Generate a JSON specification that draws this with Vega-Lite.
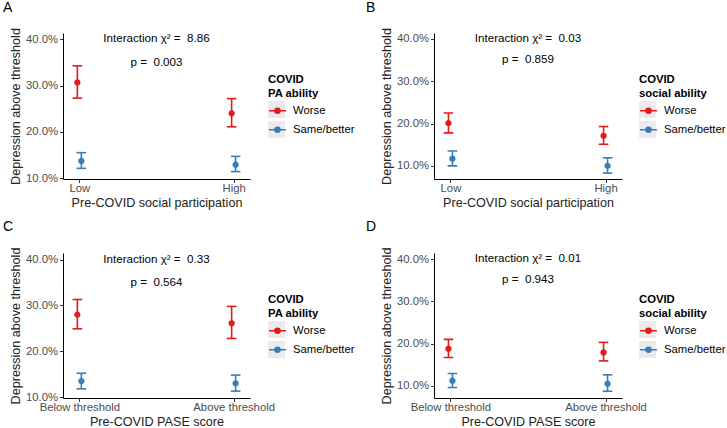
{
  "$schema": "https://vega.github.io/schema/vega-lite/v6.json",
  "padding": {"left": 3, "top": 0, "right": 0, "bottom": 0},
  "datasets": {
    "pts": [
      {"panel": "A", "x": "Low", "g": "Worse", "p": 0.307, "lo": 0.273, "hi": 0.343},
      {"panel": "A", "x": "Low", "g": "Same/better", "p": 0.137, "lo": 0.121, "hi": 0.155},
      {"panel": "A", "x": "High", "g": "Worse", "p": 0.240, "lo": 0.211, "hi": 0.272},
      {"panel": "A", "x": "High", "g": "Same/better", "p": 0.129, "lo": 0.114, "hi": 0.147},
      {"panel": "B", "x": "Low", "g": "Worse", "p": 0.201, "lo": 0.178, "hi": 0.225},
      {"panel": "B", "x": "Low", "g": "Same/better", "p": 0.117, "lo": 0.100, "hi": 0.135},
      {"panel": "B", "x": "High", "g": "Worse", "p": 0.171, "lo": 0.151, "hi": 0.193},
      {"panel": "B", "x": "High", "g": "Same/better", "p": 0.100, "lo": 0.083, "hi": 0.119},
      {"panel": "C", "x": "Below threshold", "g": "Worse", "p": 0.280, "lo": 0.249, "hi": 0.313},
      {"panel": "C", "x": "Below threshold", "g": "Same/better", "p": 0.135, "lo": 0.118, "hi": 0.152},
      {"panel": "C", "x": "Above threshold", "g": "Worse", "p": 0.261, "lo": 0.228, "hi": 0.298},
      {"panel": "C", "x": "Above threshold", "g": "Same/better", "p": 0.130, "lo": 0.113, "hi": 0.148},
      {"panel": "D", "x": "Below threshold", "g": "Worse", "p": 0.188, "lo": 0.167, "hi": 0.210},
      {"panel": "D", "x": "Below threshold", "g": "Same/better", "p": 0.112, "lo": 0.096, "hi": 0.129},
      {"panel": "D", "x": "Above threshold", "g": "Worse", "p": 0.179, "lo": 0.159, "hi": 0.203},
      {"panel": "D", "x": "Above threshold", "g": "Same/better", "p": 0.105, "lo": 0.087, "hi": 0.126}
    ],
    "ann": [
      {"panel": "A", "label": "Interaction χ² = \u00a08.86", "yv": 0.40},
      {"panel": "A", "label": "p = \u00a00.003", "yv": 0.35},
      {"panel": "B", "label": "Interaction χ² = \u00a00.03", "yv": 0.40},
      {"panel": "B", "label": "p = \u00a00.859", "yv": 0.35},
      {"panel": "C", "label": "Interaction χ² = \u00a00.33", "yv": 0.40},
      {"panel": "C", "label": "p = \u00a00.564", "yv": 0.35},
      {"panel": "D", "label": "Interaction χ² = \u00a00.01", "yv": 0.40},
      {"panel": "D", "label": "p = \u00a00.943", "yv": 0.35}
    ]
  },
  "columns": 2,
  "spacing": {"row": 74, "column": 184},
  "bounds": "flush",
  "concat": [
    {
      "width": 187, "height": 146,
      "title": {"text": "A", "anchor": "start", "frame": "group", "dx": -60, "offset": 13},
      "layer": [
        {"data": {"name": "pts"}, "transform": [{"filter": "datum.panel === 'A'"}],
         "mark": {"type": "square", "opacity": 0, "size": 1},
         "encoding": {
           "x": {"field": "x", "type": "nominal", "scale": {"type": "point", "domain": ["Low", "High"], "padding": 0.106}, "title": "Pre-COVID social participation"},
           "y": {"field": "p", "type": "quantitative", "scale": {"domain": [0.098, 0.414]}, "axis": {"values": [0.1, 0.2, 0.3, 0.4], "format": ".1%"}, "title": "Depression above threshold"},
           "color": {"field": "g", "type": "nominal", "scale": {"domain": ["Worse", "Same/better"], "range": ["#EBEBEB", "#EBEBEB"]}, "legend": {"title": null, "legendY": 68, "symbolType": "square", "symbolStrokeWidth": 0, "labelExpr": "''"}}
         }},
        {"data": {"name": "pts"}, "transform": [{"filter": "datum.panel === 'A'"}],
         "mark": {"type": "rule", "strokeWidth": 1.6},
         "encoding": {
           "x": {"field": "x", "type": "nominal", "scale": {"type": "point", "domain": ["Low", "High"], "padding": 0.106}, "title": "Pre-COVID social participation"},
           "xOffset": {"field": "g", "type": "nominal", "scale": {"type": "point", "domain": ["Worse", "Same/better"], "range": [-4, 4]}},
           "y": {"field": "lo", "type": "quantitative", "scale": {"domain": [0.098, 0.414]}, "title": "Depression above threshold"},
           "y2": {"field": "hi"},
           "stroke": {"field": "g", "type": "nominal", "sort": ["Worse", "Same/better"], "scale": {"range": ["#E41A1C", "#377EB8"]}, "legend": {"title": ["COVID", "PA ability"]}}
         }},
        {"data": {"name": "pts"}, "transform": [{"filter": "datum.panel === 'A'"}],
         "mark": {"type": "tick", "size": 8, "thickness": 0.01, "filled": false, "strokeWidth": 1.6, "opacity": 1},
         "encoding": {
           "x": {"field": "x", "type": "nominal", "scale": {"type": "point", "domain": ["Low", "High"], "padding": 0.106}, "title": "Pre-COVID social participation"},
           "xOffset": {"field": "g", "type": "nominal", "scale": {"type": "point", "domain": ["Worse", "Same/better"], "range": [-4, 4]}},
           "y": {"field": "lo", "type": "quantitative", "scale": {"domain": [0.098, 0.414]}, "title": "Depression above threshold"},
           "stroke": {"field": "g", "type": "nominal", "sort": ["Worse", "Same/better"], "scale": {"range": ["#E41A1C", "#377EB8"]}, "legend": {"title": ["COVID", "PA ability"]}}
         }},
        {"data": {"name": "pts"}, "transform": [{"filter": "datum.panel === 'A'"}],
         "mark": {"type": "tick", "size": 8, "thickness": 0.01, "filled": false, "strokeWidth": 1.6, "opacity": 1},
         "encoding": {
           "x": {"field": "x", "type": "nominal", "scale": {"type": "point", "domain": ["Low", "High"], "padding": 0.106}, "title": "Pre-COVID social participation"},
           "xOffset": {"field": "g", "type": "nominal", "scale": {"type": "point", "domain": ["Worse", "Same/better"], "range": [-4, 4]}},
           "y": {"field": "hi", "type": "quantitative", "scale": {"domain": [0.098, 0.414]}, "title": "Depression above threshold"},
           "stroke": {"field": "g", "type": "nominal", "sort": ["Worse", "Same/better"], "scale": {"range": ["#E41A1C", "#377EB8"]}, "legend": {"title": ["COVID", "PA ability"]}}
         }},
        {"data": {"name": "pts"}, "transform": [{"filter": "datum.panel === 'A'"}],
         "mark": {"type": "point", "shape": "circle", "filled": false, "size": 9, "strokeWidth": 3.3, "opacity": 1},
         "encoding": {
           "x": {"field": "x", "type": "nominal", "scale": {"type": "point", "domain": ["Low", "High"], "padding": 0.106}, "title": "Pre-COVID social participation"},
           "xOffset": {"field": "g", "type": "nominal", "scale": {"type": "point", "domain": ["Worse", "Same/better"], "range": [-4, 4]}},
           "y": {"field": "p", "type": "quantitative", "scale": {"domain": [0.098, 0.414]}, "title": "Depression above threshold"},
           "stroke": {"field": "g", "type": "nominal", "sort": ["Worse", "Same/better"], "scale": {"range": ["#E41A1C", "#377EB8"]}, "legend": {"title": ["COVID", "PA ability"]}}
         }},
        {"data": {"name": "ann"}, "transform": [{"filter": "datum.panel === 'A'"}],
         "mark": {"type": "text", "fontSize": 11.6, "color": "#000"},
         "encoding": {
           "y": {"field": "yv", "type": "quantitative", "scale": {"domain": [0.098, 0.414]}, "title": "Depression above threshold"},
           "text": {"field": "label"}
         }}
      ]
    },
    {
      "width": 188, "height": 146,
      "title": {"text": "B", "anchor": "start", "frame": "group", "dx": -68, "offset": 13},
      "layer": [
        {"data": {"name": "pts"}, "transform": [{"filter": "datum.panel === 'B'"}],
         "mark": {"type": "square", "opacity": 0, "size": 1},
         "encoding": {
           "x": {"field": "x", "type": "nominal", "scale": {"type": "point", "domain": ["Low", "High"], "padding": 0.106}, "title": "Pre-COVID social participation"},
           "y": {"field": "p", "type": "quantitative", "scale": {"domain": [0.069, 0.414]}, "axis": {"values": [0.1, 0.2, 0.3, 0.4], "format": ".1%"}, "title": "Depression above threshold"},
           "color": {"field": "g", "type": "nominal", "scale": {"domain": ["Worse", "Same/better"], "range": ["#EBEBEB", "#EBEBEB"]}, "legend": {"title": null, "legendY": 68, "symbolType": "square", "symbolStrokeWidth": 0, "labelExpr": "''"}}
         }},
        {"data": {"name": "pts"}, "transform": [{"filter": "datum.panel === 'B'"}],
         "mark": {"type": "rule", "strokeWidth": 1.6},
         "encoding": {
           "x": {"field": "x", "type": "nominal", "scale": {"type": "point", "domain": ["Low", "High"], "padding": 0.106}, "title": "Pre-COVID social participation"},
           "xOffset": {"field": "g", "type": "nominal", "scale": {"type": "point", "domain": ["Worse", "Same/better"], "range": [-4, 4]}},
           "y": {"field": "lo", "type": "quantitative", "scale": {"domain": [0.069, 0.414]}, "title": "Depression above threshold"},
           "y2": {"field": "hi"},
           "stroke": {"field": "g", "type": "nominal", "sort": ["Worse", "Same/better"], "scale": {"range": ["#E41A1C", "#377EB8"]}, "legend": {"title": ["COVID", "social ability"]}}
         }},
        {"data": {"name": "pts"}, "transform": [{"filter": "datum.panel === 'B'"}],
         "mark": {"type": "tick", "size": 8, "thickness": 0.01, "filled": false, "strokeWidth": 1.6, "opacity": 1},
         "encoding": {
           "x": {"field": "x", "type": "nominal", "scale": {"type": "point", "domain": ["Low", "High"], "padding": 0.106}, "title": "Pre-COVID social participation"},
           "xOffset": {"field": "g", "type": "nominal", "scale": {"type": "point", "domain": ["Worse", "Same/better"], "range": [-4, 4]}},
           "y": {"field": "lo", "type": "quantitative", "scale": {"domain": [0.069, 0.414]}, "title": "Depression above threshold"},
           "stroke": {"field": "g", "type": "nominal", "sort": ["Worse", "Same/better"], "scale": {"range": ["#E41A1C", "#377EB8"]}, "legend": {"title": ["COVID", "social ability"]}}
         }},
        {"data": {"name": "pts"}, "transform": [{"filter": "datum.panel === 'B'"}],
         "mark": {"type": "tick", "size": 8, "thickness": 0.01, "filled": false, "strokeWidth": 1.6, "opacity": 1},
         "encoding": {
           "x": {"field": "x", "type": "nominal", "scale": {"type": "point", "domain": ["Low", "High"], "padding": 0.106}, "title": "Pre-COVID social participation"},
           "xOffset": {"field": "g", "type": "nominal", "scale": {"type": "point", "domain": ["Worse", "Same/better"], "range": [-4, 4]}},
           "y": {"field": "hi", "type": "quantitative", "scale": {"domain": [0.069, 0.414]}, "title": "Depression above threshold"},
           "stroke": {"field": "g", "type": "nominal", "sort": ["Worse", "Same/better"], "scale": {"range": ["#E41A1C", "#377EB8"]}, "legend": {"title": ["COVID", "social ability"]}}
         }},
        {"data": {"name": "pts"}, "transform": [{"filter": "datum.panel === 'B'"}],
         "mark": {"type": "point", "shape": "circle", "filled": false, "size": 9, "strokeWidth": 3.3, "opacity": 1},
         "encoding": {
           "x": {"field": "x", "type": "nominal", "scale": {"type": "point", "domain": ["Low", "High"], "padding": 0.106}, "title": "Pre-COVID social participation"},
           "xOffset": {"field": "g", "type": "nominal", "scale": {"type": "point", "domain": ["Worse", "Same/better"], "range": [-4, 4]}},
           "y": {"field": "p", "type": "quantitative", "scale": {"domain": [0.069, 0.414]}, "title": "Depression above threshold"},
           "stroke": {"field": "g", "type": "nominal", "sort": ["Worse", "Same/better"], "scale": {"range": ["#E41A1C", "#377EB8"]}, "legend": {"title": ["COVID", "social ability"]}}
         }},
        {"data": {"name": "ann"}, "transform": [{"filter": "datum.panel === 'B'"}],
         "mark": {"type": "text", "fontSize": 11.6, "color": "#000"},
         "encoding": {
           "y": {"field": "yv", "type": "quantitative", "scale": {"domain": [0.069, 0.414]}, "title": "Depression above threshold"},
           "text": {"field": "label"}
         }}
      ]
    },
    {
      "width": 187, "height": 145,
      "title": {"text": "C", "anchor": "start", "frame": "group", "dx": -60, "offset": 13},
      "layer": [
        {"data": {"name": "pts"}, "transform": [{"filter": "datum.panel === 'C'"}],
         "mark": {"type": "square", "opacity": 0, "size": 1},
         "encoding": {
           "x": {"field": "x", "type": "nominal", "scale": {"type": "point", "domain": ["Below threshold", "Above threshold"], "padding": 0.106}, "title": "Pre-COVID PASE score"},
           "y": {"field": "p", "type": "quantitative", "scale": {"domain": [0.098, 0.4145]}, "axis": {"values": [0.1, 0.2, 0.3, 0.4], "format": ".1%"}, "title": "Depression above threshold"},
           "color": {"field": "g", "type": "nominal", "scale": {"domain": ["Worse", "Same/better"], "range": ["#EBEBEB", "#EBEBEB"]}, "legend": {"title": null, "legendY": 68, "symbolType": "square", "symbolStrokeWidth": 0, "labelExpr": "''"}}
         }},
        {"data": {"name": "pts"}, "transform": [{"filter": "datum.panel === 'C'"}],
         "mark": {"type": "rule", "strokeWidth": 1.6},
         "encoding": {
           "x": {"field": "x", "type": "nominal", "scale": {"type": "point", "domain": ["Below threshold", "Above threshold"], "padding": 0.106}, "title": "Pre-COVID PASE score"},
           "xOffset": {"field": "g", "type": "nominal", "scale": {"type": "point", "domain": ["Worse", "Same/better"], "range": [-4, 4]}},
           "y": {"field": "lo", "type": "quantitative", "scale": {"domain": [0.098, 0.4145]}, "title": "Depression above threshold"},
           "y2": {"field": "hi"},
           "stroke": {"field": "g", "type": "nominal", "sort": ["Worse", "Same/better"], "scale": {"range": ["#E41A1C", "#377EB8"]}, "legend": {"title": ["COVID", "PA ability"]}}
         }},
        {"data": {"name": "pts"}, "transform": [{"filter": "datum.panel === 'C'"}],
         "mark": {"type": "tick", "size": 8, "thickness": 0.01, "filled": false, "strokeWidth": 1.6, "opacity": 1},
         "encoding": {
           "x": {"field": "x", "type": "nominal", "scale": {"type": "point", "domain": ["Below threshold", "Above threshold"], "padding": 0.106}, "title": "Pre-COVID PASE score"},
           "xOffset": {"field": "g", "type": "nominal", "scale": {"type": "point", "domain": ["Worse", "Same/better"], "range": [-4, 4]}},
           "y": {"field": "lo", "type": "quantitative", "scale": {"domain": [0.098, 0.4145]}, "title": "Depression above threshold"},
           "stroke": {"field": "g", "type": "nominal", "sort": ["Worse", "Same/better"], "scale": {"range": ["#E41A1C", "#377EB8"]}, "legend": {"title": ["COVID", "PA ability"]}}
         }},
        {"data": {"name": "pts"}, "transform": [{"filter": "datum.panel === 'C'"}],
         "mark": {"type": "tick", "size": 8, "thickness": 0.01, "filled": false, "strokeWidth": 1.6, "opacity": 1},
         "encoding": {
           "x": {"field": "x", "type": "nominal", "scale": {"type": "point", "domain": ["Below threshold", "Above threshold"], "padding": 0.106}, "title": "Pre-COVID PASE score"},
           "xOffset": {"field": "g", "type": "nominal", "scale": {"type": "point", "domain": ["Worse", "Same/better"], "range": [-4, 4]}},
           "y": {"field": "hi", "type": "quantitative", "scale": {"domain": [0.098, 0.4145]}, "title": "Depression above threshold"},
           "stroke": {"field": "g", "type": "nominal", "sort": ["Worse", "Same/better"], "scale": {"range": ["#E41A1C", "#377EB8"]}, "legend": {"title": ["COVID", "PA ability"]}}
         }},
        {"data": {"name": "pts"}, "transform": [{"filter": "datum.panel === 'C'"}],
         "mark": {"type": "point", "shape": "circle", "filled": false, "size": 9, "strokeWidth": 3.3, "opacity": 1},
         "encoding": {
           "x": {"field": "x", "type": "nominal", "scale": {"type": "point", "domain": ["Below threshold", "Above threshold"], "padding": 0.106}, "title": "Pre-COVID PASE score"},
           "xOffset": {"field": "g", "type": "nominal", "scale": {"type": "point", "domain": ["Worse", "Same/better"], "range": [-4, 4]}},
           "y": {"field": "p", "type": "quantitative", "scale": {"domain": [0.098, 0.4145]}, "title": "Depression above threshold"},
           "stroke": {"field": "g", "type": "nominal", "sort": ["Worse", "Same/better"], "scale": {"range": ["#E41A1C", "#377EB8"]}, "legend": {"title": ["COVID", "PA ability"]}}
         }},
        {"data": {"name": "ann"}, "transform": [{"filter": "datum.panel === 'C'"}],
         "mark": {"type": "text", "fontSize": 11.6, "color": "#000"},
         "encoding": {
           "y": {"field": "yv", "type": "quantitative", "scale": {"domain": [0.098, 0.4145]}, "title": "Depression above threshold"},
           "text": {"field": "label"}
         }}
      ]
    },
    {
      "width": 188, "height": 145,
      "title": {"text": "D", "anchor": "start", "frame": "group", "dx": -68, "offset": 13},
      "layer": [
        {"data": {"name": "pts"}, "transform": [{"filter": "datum.panel === 'D'"}],
         "mark": {"type": "square", "opacity": 0, "size": 1},
         "encoding": {
           "x": {"field": "x", "type": "nominal", "scale": {"type": "point", "domain": ["Below threshold", "Above threshold"], "padding": 0.106}, "title": "Pre-COVID PASE score"},
           "y": {"field": "p", "type": "quantitative", "scale": {"domain": [0.071, 0.415]}, "axis": {"values": [0.1, 0.2, 0.3, 0.4], "format": ".1%"}, "title": "Depression above threshold"},
           "color": {"field": "g", "type": "nominal", "scale": {"domain": ["Worse", "Same/better"], "range": ["#EBEBEB", "#EBEBEB"]}, "legend": {"title": null, "legendY": 68, "symbolType": "square", "symbolStrokeWidth": 0, "labelExpr": "''"}}
         }},
        {"data": {"name": "pts"}, "transform": [{"filter": "datum.panel === 'D'"}],
         "mark": {"type": "rule", "strokeWidth": 1.6},
         "encoding": {
           "x": {"field": "x", "type": "nominal", "scale": {"type": "point", "domain": ["Below threshold", "Above threshold"], "padding": 0.106}, "title": "Pre-COVID PASE score"},
           "xOffset": {"field": "g", "type": "nominal", "scale": {"type": "point", "domain": ["Worse", "Same/better"], "range": [-4, 4]}},
           "y": {"field": "lo", "type": "quantitative", "scale": {"domain": [0.071, 0.415]}, "title": "Depression above threshold"},
           "y2": {"field": "hi"},
           "stroke": {"field": "g", "type": "nominal", "sort": ["Worse", "Same/better"], "scale": {"range": ["#E41A1C", "#377EB8"]}, "legend": {"title": ["COVID", "social ability"]}}
         }},
        {"data": {"name": "pts"}, "transform": [{"filter": "datum.panel === 'D'"}],
         "mark": {"type": "tick", "size": 8, "thickness": 0.01, "filled": false, "strokeWidth": 1.6, "opacity": 1},
         "encoding": {
           "x": {"field": "x", "type": "nominal", "scale": {"type": "point", "domain": ["Below threshold", "Above threshold"], "padding": 0.106}, "title": "Pre-COVID PASE score"},
           "xOffset": {"field": "g", "type": "nominal", "scale": {"type": "point", "domain": ["Worse", "Same/better"], "range": [-4, 4]}},
           "y": {"field": "lo", "type": "quantitative", "scale": {"domain": [0.071, 0.415]}, "title": "Depression above threshold"},
           "stroke": {"field": "g", "type": "nominal", "sort": ["Worse", "Same/better"], "scale": {"range": ["#E41A1C", "#377EB8"]}, "legend": {"title": ["COVID", "social ability"]}}
         }},
        {"data": {"name": "pts"}, "transform": [{"filter": "datum.panel === 'D'"}],
         "mark": {"type": "tick", "size": 8, "thickness": 0.01, "filled": false, "strokeWidth": 1.6, "opacity": 1},
         "encoding": {
           "x": {"field": "x", "type": "nominal", "scale": {"type": "point", "domain": ["Below threshold", "Above threshold"], "padding": 0.106}, "title": "Pre-COVID PASE score"},
           "xOffset": {"field": "g", "type": "nominal", "scale": {"type": "point", "domain": ["Worse", "Same/better"], "range": [-4, 4]}},
           "y": {"field": "hi", "type": "quantitative", "scale": {"domain": [0.071, 0.415]}, "title": "Depression above threshold"},
           "stroke": {"field": "g", "type": "nominal", "sort": ["Worse", "Same/better"], "scale": {"range": ["#E41A1C", "#377EB8"]}, "legend": {"title": ["COVID", "social ability"]}}
         }},
        {"data": {"name": "pts"}, "transform": [{"filter": "datum.panel === 'D'"}],
         "mark": {"type": "point", "shape": "circle", "filled": false, "size": 9, "strokeWidth": 3.3, "opacity": 1},
         "encoding": {
           "x": {"field": "x", "type": "nominal", "scale": {"type": "point", "domain": ["Below threshold", "Above threshold"], "padding": 0.106}, "title": "Pre-COVID PASE score"},
           "xOffset": {"field": "g", "type": "nominal", "scale": {"type": "point", "domain": ["Worse", "Same/better"], "range": [-4, 4]}},
           "y": {"field": "p", "type": "quantitative", "scale": {"domain": [0.071, 0.415]}, "title": "Depression above threshold"},
           "stroke": {"field": "g", "type": "nominal", "sort": ["Worse", "Same/better"], "scale": {"range": ["#E41A1C", "#377EB8"]}, "legend": {"title": ["COVID", "social ability"]}}
         }},
        {"data": {"name": "ann"}, "transform": [{"filter": "datum.panel === 'D'"}],
         "mark": {"type": "text", "fontSize": 11.6, "color": "#000"},
         "encoding": {
           "y": {"field": "yv", "type": "quantitative", "scale": {"domain": [0.071, 0.415]}, "title": "Depression above threshold"},
           "text": {"field": "label"}
         }}
      ]
    }
  ],
  "resolve": {"scale": {"x": "independent", "y": "independent", "xOffset": "independent", "color": "independent", "stroke": "independent"}, "legend": {"color": "independent", "stroke": "independent"}},
  "config": {
    "font": "Liberation Sans",
    "view": {"stroke": null},
    "axis": {"grid": false, "domainColor": "#000", "domainWidth": 1, "tickColor": "#333", "tickSize": 3.5, "tickWidth": 1, "labelColor": "#4D4D4D", "labelFontSize": 11.3, "labelPadding": 2, "titleColor": "#222", "titleFontSize": 12.6, "titleFontWeight": "normal", "titlePadding": 3},
    "axisX": {"labelAngle": 0, "labelPadding": 0},
    "legend": {"orient": "none", "legendX": 205, "legendY": 41, "symbolType": "M-1,0H1M0.3,0A0.3,0.3,0,1,1,-0.3,0A0.3,0.3,0,1,1,0.3,0M0.18,0A0.18,0.18,0,1,1,-0.18,0A0.18,0.18,0,1,1,0.18,0M0.07,0A0.07,0.07,0,1,1,-0.07,0A0.07,0.07,0,1,1,0.07,0", "symbolSize": 289, "symbolStrokeWidth": 1.5, "symbolOpacity": 1, "labelFontSize": 11.3, "labelColor": "#000", "labelOffset": 6, "titleFontSize": 11.3, "titleFontWeight": "bold", "titleColor": "#000", "titleLineHeight": 14, "titlePadding": 2, "rowPadding": 3},
    "title": {"fontSize": 14, "fontWeight": "normal", "color": "#000"}
  }
}
